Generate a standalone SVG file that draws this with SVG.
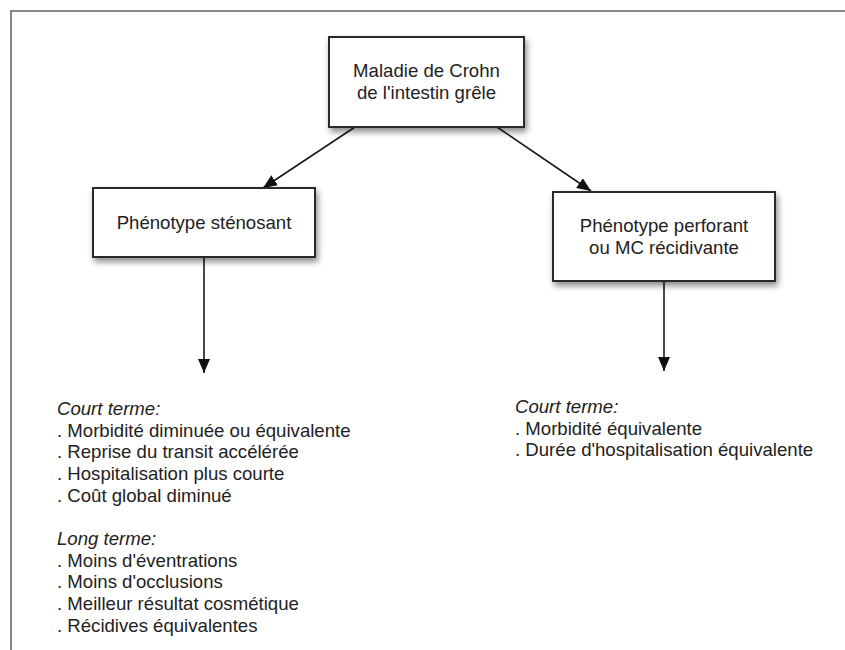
<svg xmlns="http://www.w3.org/2000/svg" width="845" height="650" viewBox="0 0 845 650">
<defs>
<style>
.box{fill:#fff;stroke:#2a2a2a;stroke-width:2;filter:url(#sh)}
.t{font-family:"Liberation Sans",Arial,sans-serif;font-size:18.6px;fill:#222}
.c{text-anchor:middle}
.i{font-style:italic}
.con{stroke:#1a1a1a;stroke-width:1.6;fill:none;marker-end:url(#ah)}
</style>
<filter id="sh" x="-10%" y="-20%" width="130%" height="150%">
<feDropShadow dx="2" dy="4" stdDeviation="3" flood-color="#000" flood-opacity="0.45"/>
</filter>
<marker id="ah" viewBox="0 0 14 12" refX="14" refY="6" markerWidth="14" markerHeight="12" markerUnits="userSpaceOnUse" orient="auto">
<path d="M0,0 L14,6 L0,12 z" fill="#111"/>
</marker>
</defs>
<rect width="845" height="650" fill="#fff"/>
<path d="M11,650 V11 H845" fill="none" stroke="#666" stroke-width="1.6"/>
<g id="connectors">
<line class="con" x1="355" y1="127" x2="263" y2="188"/>
<line class="con" x1="497" y1="127" x2="591" y2="191"/>
<line class="con" x1="204" y1="257" x2="204" y2="373"/>
<line class="con" x1="664" y1="281" x2="664" y2="371"/>
</g>
<g id="n-crohn">
<rect class="box" x="329" y="37" width="195" height="90"/>
<text class="t c" x="426.5" y="77">Maladie de Crohn</text>
<text class="t c" x="426.5" y="99">de l'intestin grêle</text>
</g>
<g id="n-stenosant">
<rect class="box" x="93" y="188" width="222" height="69"/>
<text class="t c" x="204" y="229">Phénotype sténosant</text>
</g>
<g id="n-perforant">
<rect class="box" x="553" y="192" width="222" height="89"/>
<text class="t c" x="664" y="232">Phénotype perforant</text>
<text class="t c" x="664" y="254">ou MC récidivante</text>
</g>
<g id="n-left-text">
<text class="t i" x="57" y="415">Court terme:</text>
<text class="t" x="57" y="437">. Morbidité diminuée ou équivalente</text>
<text class="t" x="57" y="458">. Reprise du transit accélérée</text>
<text class="t" x="57" y="480">. Hospitalisation plus courte</text>
<text class="t" x="57" y="502">. Coût global diminué</text>
<text class="t i" x="57" y="545">Long terme:</text>
<text class="t" x="57" y="567">. Moins d'éventrations</text>
<text class="t" x="57" y="588">. Moins d'occlusions</text>
<text class="t" x="57" y="610">. Meilleur résultat cosmétique</text>
<text class="t" x="57" y="632">. Récidives équivalentes</text>
</g>
<g id="n-right-text">
<text class="t i" x="515" y="413">Court terme:</text>
<text class="t" x="515" y="435">. Morbidité équivalente</text>
<text class="t" x="515" y="456">. Durée d'hospitalisation équivalente</text>
</g>
</svg>
